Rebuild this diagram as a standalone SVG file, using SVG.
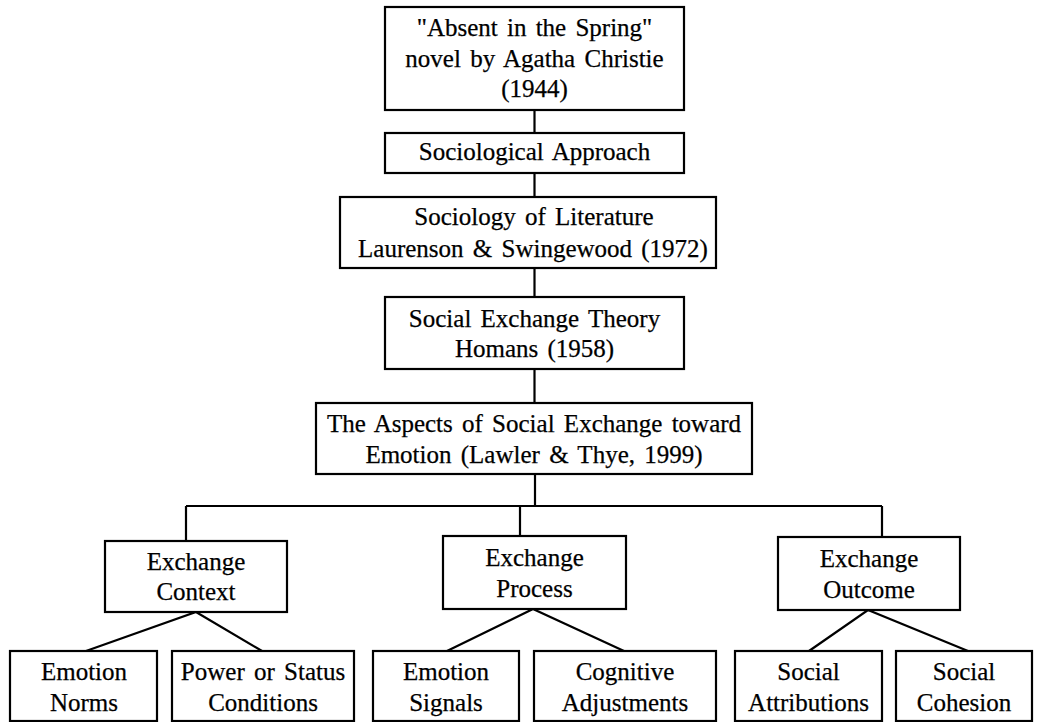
<svg xmlns="http://www.w3.org/2000/svg" width="1038" height="722" viewBox="0 0 1038 722">
<style>
.box{fill:#fff;stroke:#000;stroke-width:2.2}
.t{font-family:"Liberation Serif","Times New Roman",serif;font-size:25px;fill:#000;stroke:#000;stroke-width:0.25;text-anchor:middle;word-spacing:3px}
.c{fill:none;stroke:#000;stroke-width:2.2}
</style>
<rect width="1038" height="722" fill="#fff"/>
<g id="connectors">
<path class="c" d="M534.5,110V133M534.5,173V197M534.5,268V297M534.5,369V403M535,474V506M186,506H882M186,506V541M520,506V536M882,506V537"/>
<path class="c" d="M86,651L196,612L262,651M447,651L533,609L624,651M809,651L868,610L968,651"/>
</g>
<g id="n1"><rect class="box" x="385" y="7" width="299" height="103"/><text class="t" x="534.5" y="36">"Absent in the Spring"</text><text class="t" x="534.5" y="67">novel by Agatha Christie</text><text class="t" x="534.5" y="97">(1944)</text></g>
<g id="n2"><rect class="box" x="385" y="133" width="299" height="40"/><text class="t" x="534.5" y="160">Sociological Approach</text></g>
<g id="n3"><rect class="box" x="340" y="197" width="376" height="71"/><text class="t" x="534" y="225">Sociology of Literature</text><text class="t" x="533" y="257">Laurenson &amp; Swingewood (1972)</text></g>
<g id="n4"><rect class="box" x="385" y="297" width="299" height="72"/><text class="t" x="534.5" y="327">Social Exchange Theory</text><text class="t" x="534.5" y="357">Homans (1958)</text></g>
<g id="n5"><rect class="box" x="316" y="403" width="436" height="71"/><text class="t" x="534" y="432">The Aspects of Social Exchange toward</text><text class="t" x="534" y="463">Emotion (Lawler &amp; Thye, 1999)</text></g>
<g id="n6"><rect class="box" x="105" y="541" width="182" height="71"/><text class="t" x="196" y="570">Exchange</text><text class="t" x="196" y="600">Context</text></g>
<g id="n7"><rect class="box" x="443" y="536" width="183" height="73"/><text class="t" x="534.5" y="566">Exchange</text><text class="t" x="534.5" y="597">Process</text></g>
<g id="n8"><rect class="box" x="778" y="537" width="182" height="73"/><text class="t" x="869" y="567">Exchange</text><text class="t" x="869" y="598">Outcome</text></g>
<g id="n9"><rect class="box" x="10" y="651" width="147" height="70"/><text class="t" x="84" y="680">Emotion</text><text class="t" x="84" y="711">Norms</text></g>
<g id="n10"><rect class="box" x="172" y="651" width="182" height="70"/><text class="t" x="263" y="680">Power or Status</text><text class="t" x="263" y="711">Conditions</text></g>
<g id="n11"><rect class="box" x="373" y="651" width="146" height="70"/><text class="t" x="446" y="680">Emotion</text><text class="t" x="446" y="711">Signals</text></g>
<g id="n12"><rect class="box" x="534" y="651" width="182" height="70"/><text class="t" x="625" y="680">Cognitive</text><text class="t" x="625" y="711">Adjustments</text></g>
<g id="n13"><rect class="box" x="735" y="651" width="147" height="70"/><text class="t" x="808.5" y="680">Social</text><text class="t" x="808.5" y="711">Attributions</text></g>
<g id="n14"><rect class="box" x="896" y="651" width="136" height="70"/><text class="t" x="964" y="680">Social</text><text class="t" x="964" y="711">Cohesion</text></g>
</svg>
